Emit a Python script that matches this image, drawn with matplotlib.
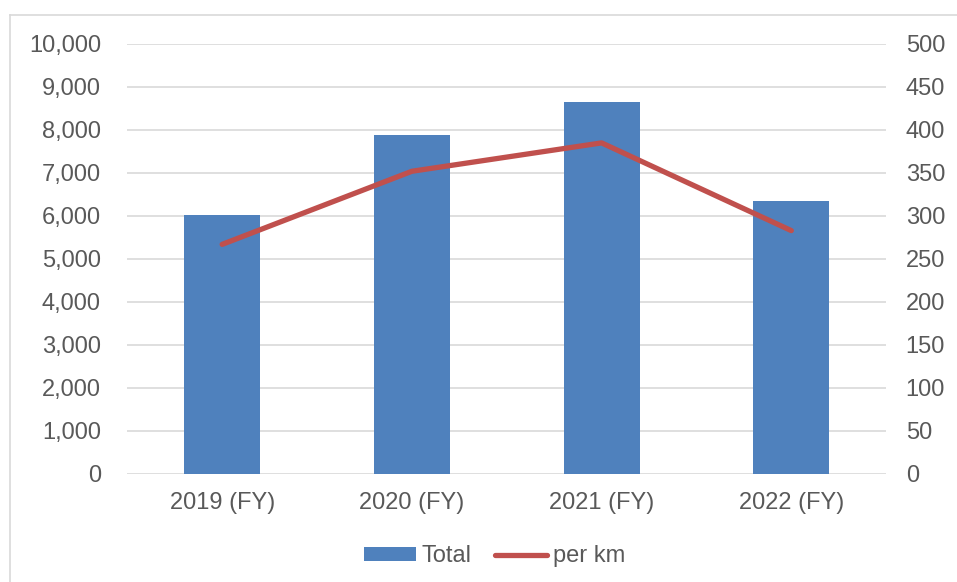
import numpy as np
from matplotlib import pyplot as plt
from matplotlib.lines import Line2D
from matplotlib.patches import Patch

years = ["2019 (FY)", "2020 (FY)", "2021 (FY)", "2022 (FY)"]
total = [6020, 7880, 8650, 6350]
per_km = [267, 352, 385, 283]

BAR_COLOR = "#4f81bd"
LINE_COLOR = "#c0504d"
TEXT_COLOR = "#595959"
GRID_COLOR = "#d9d9d9"

plt.rcParams["font.family"] = ["Liberation Sans", "DejaVu Sans"]

fig = plt.figure(figsize=(9.57, 5.82), dpi=100)
ax = fig.add_axes([0.133, 0.1856, 0.793, 0.7388])

x = np.arange(len(years))
ax.bar(x, total, width=0.4, color=BAR_COLOR, zorder=2)
ax.set_xlim(-0.5, len(years) - 0.5)
ax.set_ylim(0, 10000)
ax.set_yticks(np.arange(0, 10001, 1000))
ax.set_yticklabels([f"{v:,}" for v in range(0, 10001, 1000)])
ax.set_xticks(x)
ax.set_xticklabels(years)
ax.grid(axis="y", color=GRID_COLOR, linewidth=1.2, zorder=0)
ax.set_axisbelow(True)
ax.tick_params(axis="y", length=0, pad=19, labelsize=17, labelcolor=TEXT_COLOR)
ax.tick_params(axis="x", length=0, pad=13, labelsize=17, labelcolor=TEXT_COLOR)
for s in ax.spines.values():
    s.set_visible(False)

ax2 = ax.twinx()
ax2.plot(x, per_km, color=LINE_COLOR, linewidth=3.8, solid_capstyle="round", zorder=3)
ax2.set_ylim(0, 500)
ax2.set_yticks(np.arange(0, 501, 50))
ax2.tick_params(axis="y", length=0, pad=14, labelsize=17, labelcolor=TEXT_COLOR)
for s in ax2.spines.values():
    s.set_visible(False)

handles = [
    Patch(facecolor=BAR_COLOR, edgecolor="none"),
    Line2D([0], [0], color=LINE_COLOR, linewidth=3.8, solid_capstyle="round"),
]
leg = fig.legend(
    handles,
    ["Total", "per km"],
    loc="center",
    bbox_to_anchor=(0.517, 0.044),
    ncol=2,
    frameon=False,
    fontsize=17,
    handlelength=2.2,
    handleheight=0.55,
    handletextpad=0.25,
    columnspacing=1.0,
    labelcolor=TEXT_COLOR,
)

# outer chart border
fig.add_artist(Line2D([10 / 957, 10 / 957], [0, 1 - 15 / 582], color=GRID_COLOR, linewidth=1.2))
fig.add_artist(Line2D([10 / 957, 1], [1 - 15 / 582, 1 - 15 / 582], color=GRID_COLOR, linewidth=1.2))

plt.savefig("out.png", dpi=100)
plt.close()
